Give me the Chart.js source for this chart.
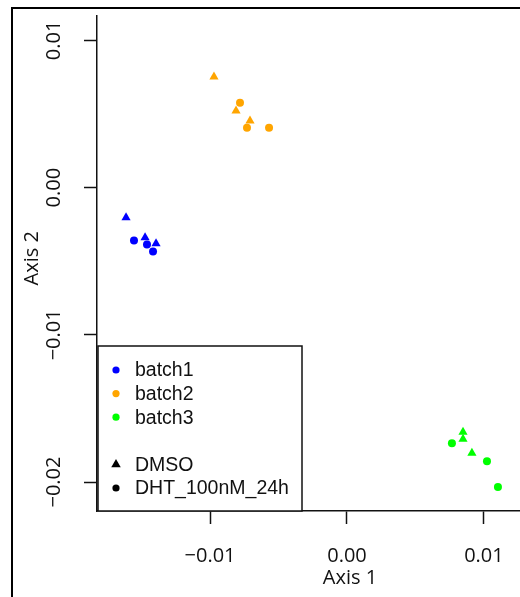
<!DOCTYPE html>
<html><head><meta charset="utf-8">
<script src="https://cdn.jsdelivr.net/npm/chart.js@4.4.0/dist/chart.umd.min.js"></script>
<style>
html,body{margin:0;padding:0;background:#fff;width:520px;height:597px;overflow:hidden;position:relative}
#c{position:absolute;left:0;top:0}
#frame{position:absolute;left:11px;top:7px;width:700px;height:700px;border-left:2px solid #000;border-top:2px solid #000;pointer-events:none}
</style></head><body>
<canvas id="c" width="620" height="597" style="width:620px;height:597px"></canvas>
<div id="frame"></div>
<script>
const batchNames = ['batch1', 'batch2', 'batch3'];
const batchColors = ['#0000FF', '#FFA500', '#00FF00'];
const treatmentNames = ['DMSO', 'DHT_100nM_24h'];
const treatmentShapes = ['triangle', 'circle'];

const batch1DmsoX = [-0.01613, -0.01474, -0.01394];
const batch1DmsoY = [-0.00203, -0.00339, -0.00380];
const batch1DhtX  = [-0.01555, -0.01460, -0.01416];
const batch1DhtY  = [-0.00359, -0.00386, -0.00434];

const batch2DmsoX = [-0.00971, -0.00810, -0.00708];
const batch2DmsoY = [0.00753, 0.00522, 0.00454];
const batch2DhtX  = [-0.00781, -0.00730, -0.00569];
const batch2DhtY  = [0.00576, 0.00407, 0.00407];

const batch3DmsoX = [0.00847, 0.00847, 0.00912];
const batch3DmsoY = [-0.01661, -0.01708, -0.01803];
const batch3DhtX  = [0.00766, 0.01022, 0.01102];
const batch3DhtY  = [-0.01736, -0.01858, -0.02034];

const xTickValues = [-0.01, 0, 0.01];
const yTickValues = [-0.02, -0.01, 0, 0.01];
const xRange = [-0.01825, 0.01869];
const yRange = [-0.021966, 0.011661];

const seriesX = [[batch1DmsoX, batch1DhtX], [batch2DmsoX, batch2DhtX], [batch3DmsoX, batch3DhtX]];
const seriesY = [[batch1DmsoY, batch1DhtY], [batch2DmsoY, batch2DhtY], [batch3DmsoY, batch3DhtY]];

const datasets = [];
for (let b = 0; b < batchNames.length; b++) {
  for (let t = 0; t < treatmentNames.length; t++) {
    const xs = seriesX[b][t], ys = seriesY[b][t];
    datasets.push({
      label: batchNames[b] + ' ' + treatmentNames[t],
      data: xs.map((x, i) => ({x: x, y: ys[i]})),
      pointStyle: treatmentShapes[t],
      pointRadius: treatmentShapes[t] === 'triangle' ? 5.3 : 4,
      pointBackgroundColor: batchColors[b],
      pointBorderWidth: 0,
      showLine: false
    });
  }
}

const fmt = v => (v < 0 ? '\u2212' : '') + Math.abs(v).toFixed(2);
const axisFont = {family: 'Open Sans', size: 20};
const ink = '#111';

const legendPlugin = {
  id: 'boxLegend',
  afterDraw(chart) {
    const ctx = chart.ctx;
    const left = chart.chartArea.left + 1, bottom = chart.chartArea.bottom;
    const right = 302, top = 346;
    ctx.save();
    ctx.fillStyle = '#fff';
    ctx.fillRect(left, top, right - left, bottom - top);
    ctx.strokeStyle = ink;
    ctx.lineWidth = 1.5;
    ctx.strokeRect(left, top, right - left, bottom - top);
    const mx = 116, tx = 135;
    const rows = [];
    batchNames.forEach((n, i) => rows.push({text: n, color: batchColors[i], shape: 'circle'}));
    rows.push(null);
    treatmentNames.forEach((n, i) => rows.push({text: n, color: '#000', shape: treatmentShapes[i]}));
    const y0 = 370, dy = 23.6;
    ctx.font = '19.5px "Liberation Sans", Arial, sans-serif';
    ctx.textBaseline = 'middle';
    ctx.textAlign = 'left';
    rows.forEach((r, i) => {
      if (!r) return;
      const y = y0 + i * dy;
      ctx.fillStyle = r.color;
      ctx.beginPath();
      if (r.shape === 'circle') {
        ctx.arc(mx, y, 3.6, 0, Math.PI * 2);
      } else {
        const rr = 5.5;
        ctx.moveTo(mx, y - rr);
        ctx.lineTo(mx + rr * 0.866, y + rr * 0.5);
        ctx.lineTo(mx - rr * 0.866, y + rr * 0.5);
        ctx.closePath();
      }
      ctx.fill();
      ctx.fillStyle = ink;
      ctx.fillText(r.text, tx, y + 1);
    });
    ctx.restore();
  }
};

new Chart(document.getElementById('c'), {
  type: 'scatter',
  data: {datasets: datasets},
  options: {
    responsive: false,
    animation: false,
    devicePixelRatio: 1,
    layout: {padding: {left: 0, top: 15, right: 17, bottom: 0}},
    plugins: {legend: {display: false}, tooltip: {enabled: false}},
    scales: {
      x: {
        type: 'linear', min: xRange[0], max: xRange[1],
        afterBuildTicks: s => { s.ticks = xTickValues.map(v => ({value: v})); },
        afterFit: s => { s.height = 86; },
        ticks: {callback: fmt, font: axisFont, color: ink, padding: 20, autoSkip: false, maxRotation: 0},
        grid: {display: true, drawOnChartArea: false, drawTicks: true, tickLength: 13, tickColor: ink, tickWidth: 1.5},
        border: {display: true, color: ink, width: 1.5},
        title: {display: true, text: 'Axis 1', font: axisFont, color: ink, padding: {top: 0, bottom: 7}}
      },
      y: {
        type: 'linear', min: yRange[0], max: yRange[1],
        afterBuildTicks: s => { s.ticks = yTickValues.map(v => ({value: v})); },
        afterFit: s => { s.width = 97; },
        ticks: {callback: fmt, font: axisFont, color: ink, padding: 4, autoSkip: false, minRotation: 90, maxRotation: 90, crossAlign: 'center'},
        grid: {display: true, drawOnChartArea: false, drawTicks: true, tickLength: 13, tickColor: ink, tickWidth: 1.5},
        border: {display: true, color: ink, width: 1.5},
        title: {display: true, text: '  Axis 2', font: axisFont, color: ink, padding: {top: 20, bottom: 0}}
      }
    }
  },
  plugins: [legendPlugin]
});
</script>
</body></html>
